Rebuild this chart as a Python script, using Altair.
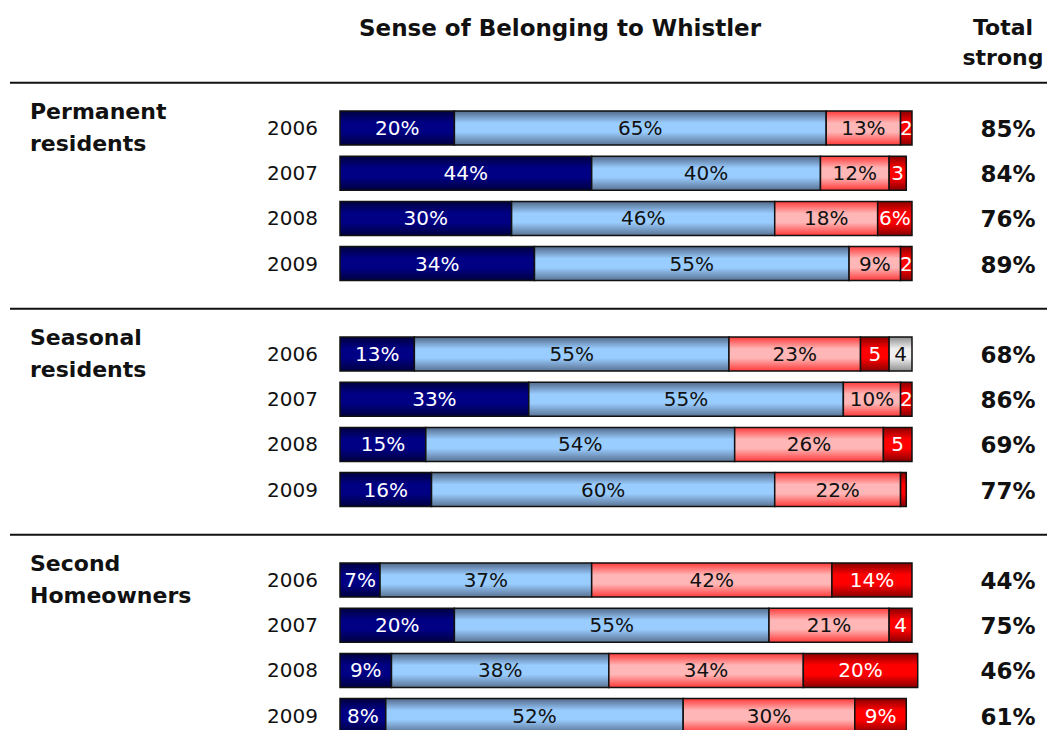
import altair as alt
import pandas as pd

groups = ["Permanent\nresidents", "Seasonal\nresidents", "Second\nHomeowners"]
years = ["2006", "2007", "2008", "2009"]
categories = ["Very strong", "Somewhat strong", "Somewhat weak", "Very weak", "Don't know"]

very_strong = [20, 44, 30, 34, 13, 33, 15, 16, 7, 20, 9, 8]
somewhat_strong = [65, 40, 46, 55, 55, 55, 54, 60, 37, 55, 38, 52]
somewhat_weak = [13, 12, 18, 9, 23, 10, 26, 22, 42, 21, 34, 30]
very_weak = [2, 3, 6, 2, 5, 2, 5, 1, 14, 4, 20, 9]
dont_know = [0, 0, 0, 0, 4, 0, 0, 0, 0, 0, 0, 0]
total_strong = [85, 84, 76, 89, 68, 86, 69, 77, 44, 75, 46, 61]

FONT = "DejaVu Sans"

seg_rows, row_rows = [], []
for r in range(12):
    g, i = divmod(r, 4)
    pos = g * 5 + i
    vals = [very_strong[r], somewhat_strong[r], somewhat_weak[r], very_weak[r], dont_know[r]]
    start = 0
    for c, v in zip(categories, vals):
        if v > 0:
            label = f"{v}%" if v >= 6 else (str(v) if v >= 2 else "")
            seg_rows.append(dict(pos=pos, cat=c, start=start, end=start + v,
                                 mid=start + v / 2, label=label))
        start += v
    row_rows.append(dict(pos=pos, year=years[i], total=f"{total_strong[r]}%"))

seg = pd.DataFrame(seg_rows)
rowdf = pd.DataFrame(row_rows)
grpdf = pd.DataFrame(dict(pos=[0, 5, 10], name=groups))
divdf = pd.DataFrame(dict(pos=[-1, 4, 9]))

xs = alt.Scale(domain=[0, 100], range=[332, 904])
ys = alt.Scale(domain=[0, 12], range=[120, 662.4])
HALF = 0.376


def grad(edge, center, edge2=None):
    edge2 = edge2 or edge
    return alt.LinearGradient(
        gradient="linear", x1=0, x2=0, y1=0, y2=1,
        stops=[alt.GradientStop(color=edge, offset=0),
               alt.GradientStop(color=center, offset=0.35),
               alt.GradientStop(color=center, offset=0.62),
               alt.GradientStop(color=edge2, offset=1)])


fills = {
    "Very strong": grad("#000040", "#000085"),
    "Somewhat strong": grad("#52698a", "#99ccff", "#5a7393"),
    "Somewhat weak": grad("#ff3a3a", "#ffb6b6"),
    "Very weak": grad("#8a0000", "#ff0000"),
    "Don't know": grad("#8f8f8f", "#f0f0f0"),
}

base = alt.Chart(seg).transform_calculate(
    y0=f"datum.pos - {HALF}", y1=f"datum.pos + {HALF}")

bars = []
for c in categories:
    bars.append(
        base.transform_filter(alt.datum.cat == c).mark_rect(
            fill=fills[c], stroke="#111111", strokeWidth=1.5
        ).encode(
            x=alt.X("start:Q", scale=xs, axis=None),
            x2="end:Q",
            y=alt.Y("y0:Q", scale=ys, axis=None),
            y2="y1:Q",
        )
    )

labels = alt.Chart(seg).mark_text(font=FONT, fontSize=20, baseline="middle", dy=1).encode(
    x=alt.X("mid:Q", scale=xs, axis=None),
    y=alt.Y("pos:Q", scale=ys, axis=None),
    text="label:N",
    color=alt.Color("cat:N", scale=alt.Scale(
        domain=categories, range=["white", "#111111", "#111111", "white", "#111111"]),
        legend=None),
)

year_text = alt.Chart(rowdf).mark_text(font=FONT, fontSize=20, align="right",
                                        baseline="middle", color="#111111", dy=1).encode(
    x=alt.value(310),
    y=alt.Y("pos:Q", scale=ys, axis=None),
    text="year:N",
)

total_text = alt.Chart(rowdf).mark_text(font=FONT, fontSize=23, fontWeight="bold",
                                         align="center", baseline="middle",
                                         color="#111111", dy=2).encode(
    x=alt.value(1000),
    y=alt.Y("pos:Q", scale=ys, axis=None),
    text="total:N",
)

group_text = alt.Chart(grpdf).mark_text(font=FONT, fontSize=22, fontWeight="bold",
                                         align="left", baseline="middle",
                                         lineBreak="\n", lineHeight=32,
                                         color="#111111", dy=-16).encode(
    x=alt.value(22),
    y=alt.Y("pos:Q", scale=ys, axis=None),
    text="name:N",
)

dividers = alt.Chart(divdf).mark_rule(color="#111111", strokeWidth=2).encode(
    x=alt.value(2), x2=alt.value(1039),
    y=alt.Y("pos:Q", scale=ys, axis=None),
)

headers = pd.DataFrame(dict(
    text=["Sense of Belonging to Whistler", "Total\nstrong"],
    px=[552, 995],
    size=[23, 22],
))
header_text = alt.Chart(headers).mark_text(font=FONT, fontWeight="bold",
                                            align="center", baseline="top",
                                            lineBreak="\n", lineHeight=30,
                                            color="#111111", dy=-10).encode(
    x=alt.X("px:Q", scale=alt.Scale(domain=[0, 1039], range=[0, 1039]), axis=None),
    y=alt.value(20),
    size=alt.Size("size:Q", scale=None, legend=None),
    text="text:N",
)

chart = alt.layer(*bars, labels, year_text, total_text, group_text, dividers,
                  header_text).resolve_scale(x="independent").properties(
    width=1039, height=722, autosize=alt.AutoSizeParams(type="none"), padding=0
).configure_view(stroke=None)

chart.save("out.html", embed_options={"renderer": "svg", "actions": False})
